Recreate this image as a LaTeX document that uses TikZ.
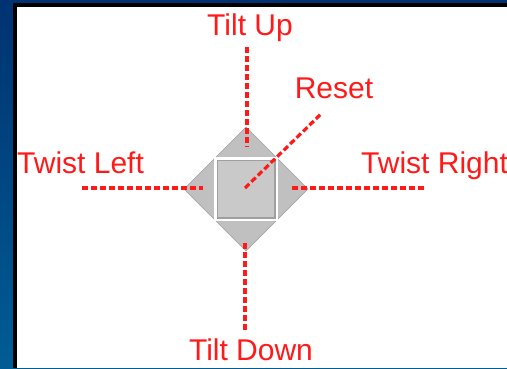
\documentclass[tikz,border=0pt]{standalone}
\usepackage{fontspec}
\setmainfont{Liberation Sans}
\usetikzlibrary{positioning}

\definecolor{panelblue}{HTML}{003272}
\definecolor{panelblue2}{HTML}{005D94}
\definecolor{padgray}{HTML}{C0C0C0}
\definecolor{capgray}{HTML}{C9C9C9}
\definecolor{labelred}{HTML}{FF1A1A}

\begin{document}
\begin{tikzpicture}[x=1pt, y=-1pt,
	every node/.style={font=\fontsize{30}{32}\selectfont, text=labelred, inner sep=0pt},
	leader/.style={labelred, line width=3.2pt, dash pattern=on 6pt off 3pt}]
	\useasboundingbox (0,0) rectangle (507,368);
	% frame
	\shade[top color=panelblue, bottom color=panelblue2] (0,0) rectangle (507,368);
	\fill[black] (13,3) rectangle (507,368);
	\fill[white] (17,7) rectangle (507,368);
	% pad
	\filldraw[fill=padgray, draw=gray!75, line width=0.6pt] (246,127) -- (308,189) -- (246,251) -- (184,189) -- cycle;
	\fill[white] (214,157) rectangle (278,221);
	\fill[gray!75] (216.5,159.5) rectangle (275.5,218.5);
	\fill[capgray] (218,161) rectangle (274,217);
	% labels
	\node[anchor=base] (tiltup) at (250,35) {Tilt Up};
	\node[anchor=base] (reset) at (334,98) {Reset};
	\node[anchor=base west] (twistleft) at (17,173) {Twist Left};
	\node[anchor=base west] (twistright) at (361,173) {Twist Right};
	\node[anchor=base] (tiltdown) at (251,360) {Tilt Down};
	% leader ends
	\coordinate (upA) at (247,47);
	\coordinate (upB) at (247,147);
	\coordinate (downA) at (245,243);
	\coordinate (downB) at (245,330);
	\coordinate (leftA) at (82,188);
	\coordinate (leftB) at (203,188);
	\coordinate (rightA) at (292,188);
	\coordinate (rightB) at (425,188);
	\coordinate (resetA) at (245,188);
	\coordinate (resetB) at (322,113);
	\draw[leader] (upA) -- (upB);
	\draw[leader] (downA) -- (downB);
	\draw[leader] (leftA) -- (leftB);
	\draw[leader] (rightA) -- (rightB);
	\draw[leader] (resetA) -- (resetB);
\end{tikzpicture}
\end{document}
